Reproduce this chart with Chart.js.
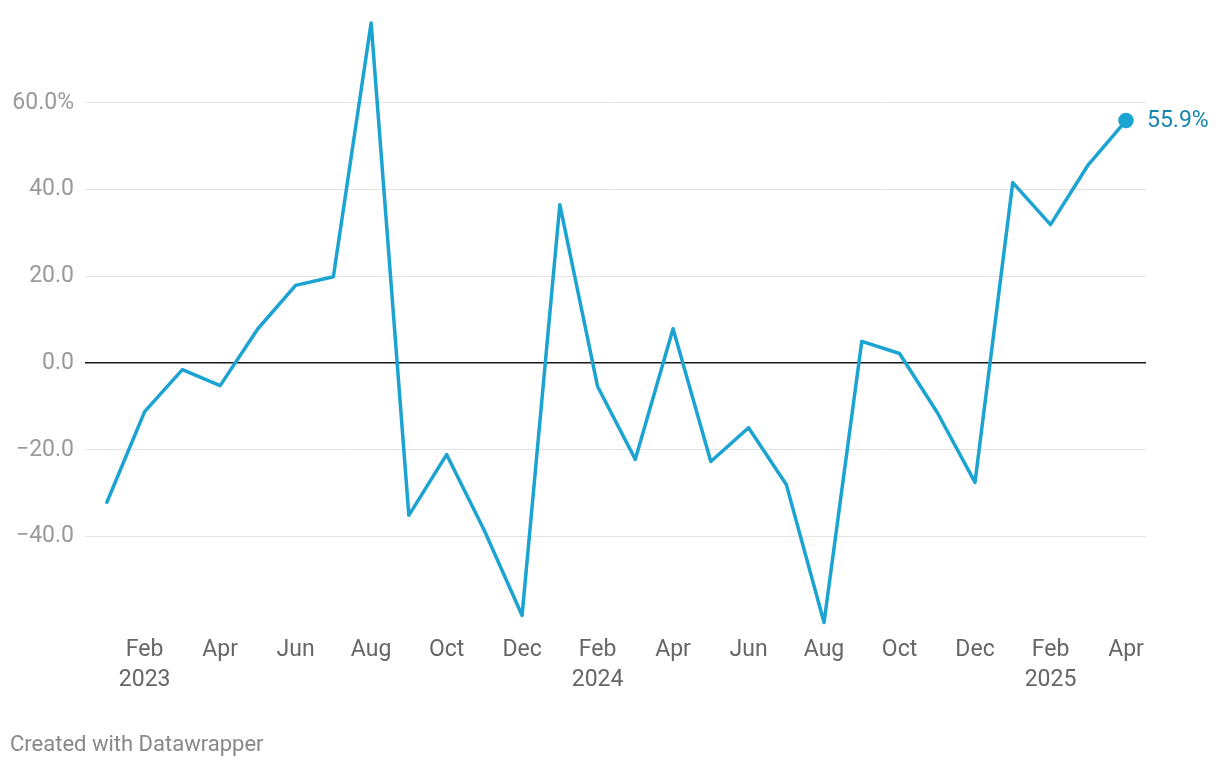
<!DOCTYPE html>
<html>
<head>
<meta charset="utf-8">
<script src="https://cdn.jsdelivr.net/npm/chart.js@4"></script>
<style>
  html, body { margin: 0; padding: 0; background: #fff; }
  #wrap { position: relative; width: 1220px; height: 768px; }
  #footer { position: absolute; left: 10px; top: 731px; font: 22px Roboto, sans-serif; color: #888; }
</style>
</head>
<body>
<div id="wrap">
  <canvas id="chart" width="1220" height="768"></canvas>
  <div id="footer">Created with Datawrapper</div>
</div>
<script>
const months = ['Jan 2023','Feb 2023','Mar 2023','Apr 2023','May 2023','Jun 2023','Jul 2023','Aug 2023','Sep 2023','Oct 2023','Nov 2023','Dec 2023',
  'Jan 2024','Feb 2024','Mar 2024','Apr 2024','May 2024','Jun 2024','Jul 2024','Aug 2024','Sep 2024','Oct 2024','Nov 2024','Dec 2024',
  'Jan 2025','Feb 2025','Mar 2025','Apr 2025'];
const values = [-32.1, -11.2, -1.5, -5.2, 7.9, 17.9, 19.9, 78.4, -35.1, -21.1, -38.6, -58.2,
  36.5, -5.4, -22.2, 7.9, -22.7, -14.9, -28.0, -59.8, 5.0, 2.2, -11.4, -27.5,
  41.6, 31.9, 45.7, 55.9];
const yTicks = [-40, -20, 0, 20, 40, 60];
const monthNames = ['Jan','Feb','Mar','Apr','May','Jun','Jul','Aug','Sep','Oct','Nov','Dec'];

const lineColor = '#1ba3d1';

const endLabel = {
  id: 'endLabel',
  afterDatasetsDraw(chart) {
    const meta = chart.getDatasetMeta(0);
    const last = meta.data[meta.data.length - 1];
    const ctx = chart.ctx;
    ctx.save();
    ctx.font = '23px Roboto, sans-serif';
    ctx.fillStyle = '#1686b0';
    ctx.textAlign = 'left';
    ctx.textBaseline = 'middle';
    ctx.fillText(values[values.length - 1].toFixed(1) + '%', last.x + 21, last.y + 1);
    ctx.restore();
  }
};

new Chart(document.getElementById('chart'), {
  type: 'line',
  data: {
    datasets: [{
      data: values.map((v, i) => ({ x: i, y: v })),
      borderColor: lineColor,
      backgroundColor: lineColor,
      borderWidth: 3.5,
      borderJoinStyle: 'round',
      borderCapStyle: 'round',
      tension: 0,
      pointRadius: values.map((v, i) => i === values.length - 1 ? 6 : 0),
      pointHoverRadius: 0
    }]
  },
  options: {
    responsive: false,
    animation: false,
    layout: { padding: { top: 16, right: 74, bottom: 66, left: 0 } },
    plugins: { legend: { display: false }, tooltip: { enabled: false } },
    scales: {
      x: {
        type: 'linear',
        min: -0.58,
        max: 27.53,
        afterBuildTicks(scale) {
          scale.ticks = months.map((m, i) => ({ value: i }));
        },
        afterFit(scale) {
          scale.height = 70;
          scale.paddingLeft = 0;
          scale.paddingRight = 0;
        },
        grid: { display: false },
        border: { display: false },
        ticks: {
          autoSkip: false,
          maxRotation: 0,
          padding: -5,
          color: '#666',
          font: { family: 'Roboto', size: 23, lineHeight: 1.3 },
          callback(value) {
            const m = value % 12;
            if (m % 2 === 0) return '';
            if (m === 1) return [monthNames[m], months[value].slice(4)];
            return monthNames[m];
          }
        }
      },
      y: {
        min: -62,
        max: 80,
        afterBuildTicks(scale) {
          scale.ticks = yTicks.map(v => ({ value: v }));
        },
        afterFit(scale) {
          scale.width = 85;
          scale.paddingTop = 0;
          scale.paddingBottom = 0;
        },
        border: { display: false },
        grid: {
          drawTicks: false,
          color: ctx => ctx.tick && ctx.tick.value === 0 ? '#1a1a1a' : '#e3e3e3',
          lineWidth: ctx => ctx.tick && ctx.tick.value === 0 ? 1.5 : 1
        },
        ticks: {
          padding: 11,
          color: '#999',
          font: { family: 'Roboto', size: 23 },
          callback(value) {
            const s = Math.abs(value).toFixed(1);
            if (value === 60) return s + '%';
            return value < 0 ? '\u2212' + s : s;
          }
        }
      }
    }
  },
  plugins: [endLabel]
});
</script>
</body>
</html>
